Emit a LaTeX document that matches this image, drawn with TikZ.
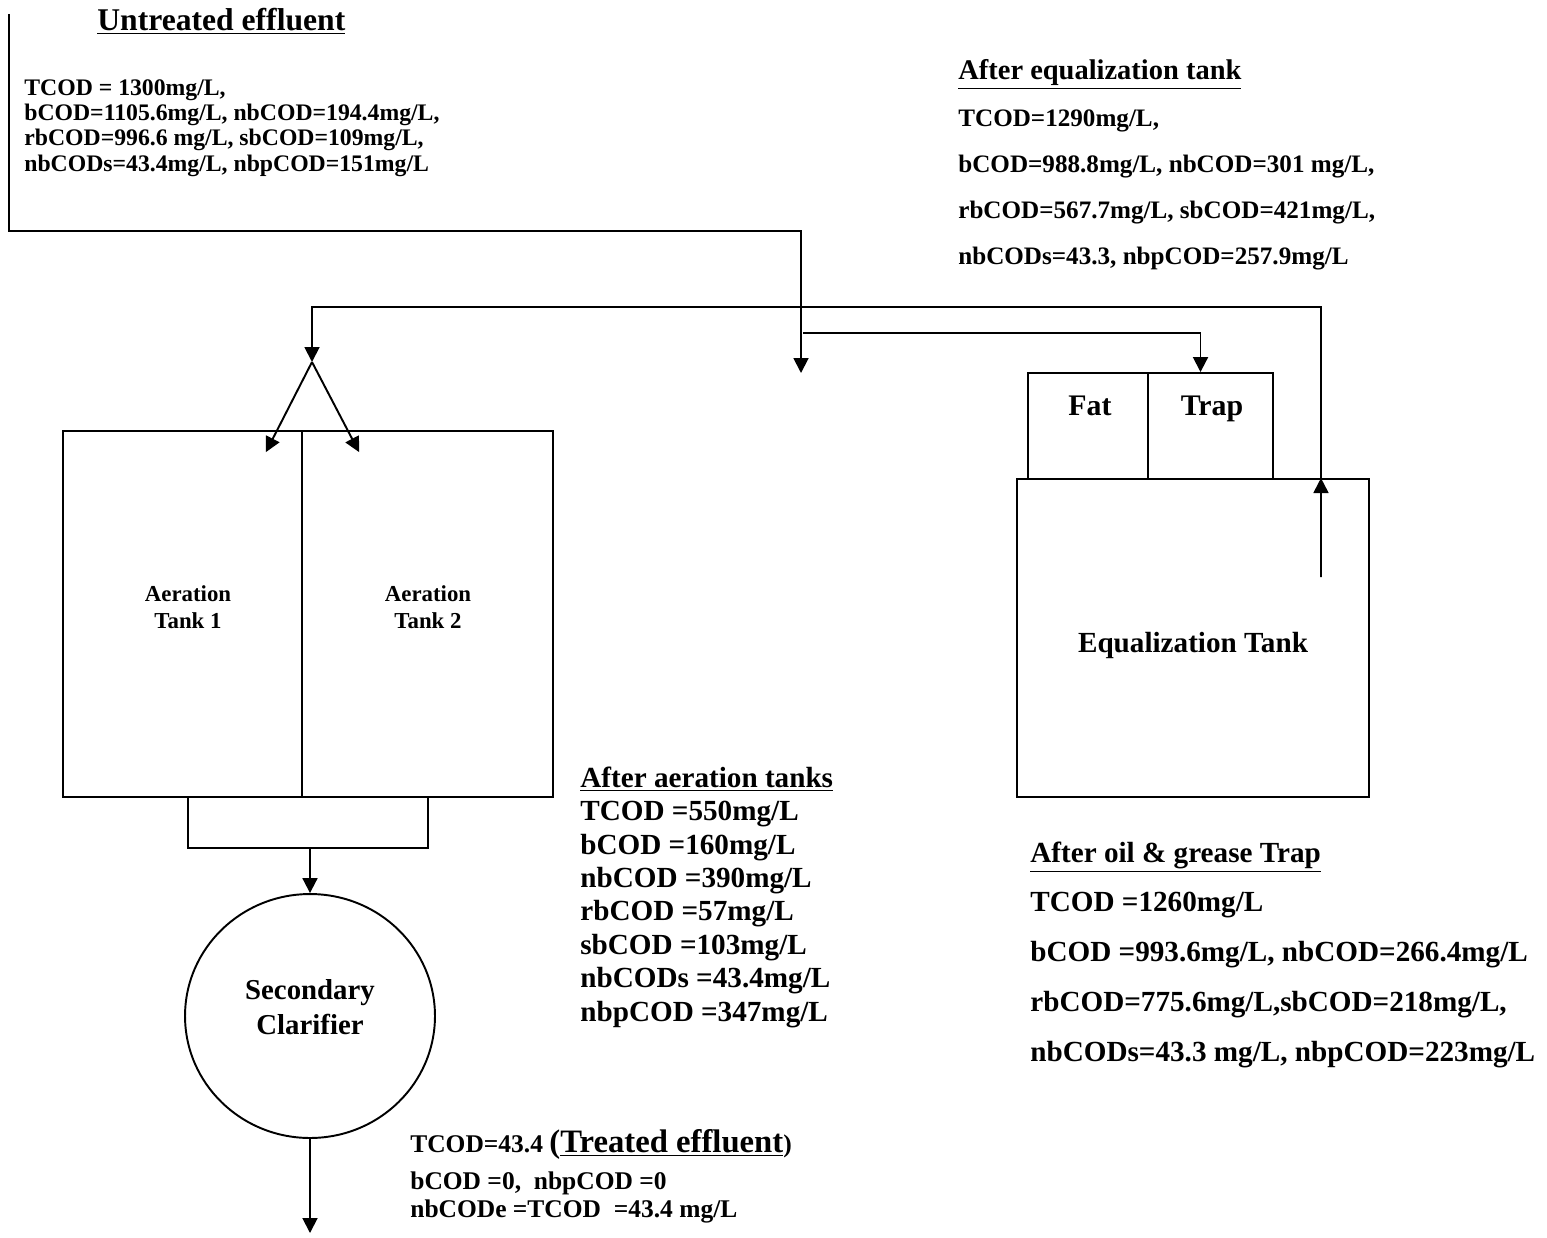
\documentclass[tikz,border=0pt]{standalone}
\usepackage{fontspec}
\setmainfont{Liberation Serif}
\usetikzlibrary{arrows.meta,shapes.geometric}
\tikzset{
  tank/.style={draw, line width=1.1pt, inner sep=0pt},
  pipe/.style={line width=1.1pt},
  flow/.style={line width=1.1pt, -{Triangle[length=8.5pt,width=8.5pt]}},
  lbl/.style={align=left, anchor=base west, inner sep=0pt},
  tanklbl/.style={align=center, inner sep=0pt},
}
\newcommand{\fsz}[2]{\fontsize{#1}{#2}\selectfont}

\begin{document}
\begin{tikzpicture}[x=0.02cm, y=-0.02cm]
  \useasboundingbox (0,0) rectangle (1547,1237);
  % tanks
  \node[tank, minimum width=4.78cm, minimum height=7.32cm] (aer1) at (182.5,614) {};
  \node[tank, minimum width=5.02cm, minimum height=7.32cm] (aer2) at (427.5,614) {};
  \node[tank, minimum width=2.4cm, minimum height=2.12cm] (fat) at (1088,426) {};
  \node[tank, minimum width=2.5cm, minimum height=2.12cm] (trap) at (1210.5,426) {};
  \node[tank, minimum width=7.04cm, minimum height=6.36cm] (eq) at (1193,638) {};
  \node[tank, ellipse, minimum width=5cm, minimum height=4.88cm] (clar) at (310,1016) {};
  % tank labels
  \node[tanklbl, font=\bfseries\fsz{13}{15.3}] (aer1lbl) at (188,607) {Aeration\\Tank 1};
  \node[tanklbl, font=\bfseries\fsz{13}{15.3}] (aer2lbl) at (428,607) {Aeration\\Tank 2};
  \node[anchor=base, inner sep=0pt, font=\bfseries\fsz{17}{20}] (fatlbl) at (1090,415) {Fat};
  \node[anchor=base, inner sep=0pt, font=\bfseries\fsz{17}{20}] (traplbl) at (1212,415) {Trap};
  \node[anchor=base, inner sep=0pt, font=\bfseries\fsz{16.6}{20}] (eqlbl) at (1193,652) {Equalization Tank};
  \node[tanklbl, font=\bfseries\fsz{16.4}{19.8}] (clarlbl) at (310,1007) {Secondary\\Clarifier};

  % flow lines
  \coordinate (src) at (9,14);
  \coordinate (mix) at (801,373);
  \coordinate (tee) at (803,333);
  \coordinate (ret) at (1321,577);
  \coordinate (apex) at (312,362);
  \coordinate (coll) at (310,847);
  \coordinate (out) at (310,1233);
  \draw[flow] (src) -- ++(0,217) -| (mix);
  \draw[flow] (tee) -| ([xshift=-0.2cm]trap.north);
  \draw[flow] (ret) -- ([xshift=2.56cm]eq.north);
  \draw[flow] ([xshift=2.56cm]eq.north) -- ++(0,-171) -| (apex);
  \draw[flow] (apex) -- ([xshift=-0.74cm,yshift=-0.44cm]aer1.north east);
  \draw[flow] (apex) -- ([xshift=1.16cm,yshift=-0.44cm]aer2.north west);
  \draw[pipe] ([xshift=0.11cm]aer1.south) -- ++(0,50) -| ([xshift=0.01cm]aer2.south);
  \draw[flow] (coll) -- (clar.north);
  \draw[flow] (clar.south) -- (out);

  % COD values (base = last line)
  \node[lbl, font=\bfseries\fsz{18}{21}] (untrhd) at (97,31) {\underline{Untreated effluent}};
  \node[lbl, font=\bfseries\fsz{13.5}{14.4}] (untr) at (24,171)
    {TCOD = 1300mg/L,\\
     bCOD=1105.6mg/L, nbCOD=194.4mg/L,\\
     rbCOD=996.6 mg/L, sbCOD=109mg/L,\\
     nbCODs=43.4mg/L, nbpCOD=151mg/L};
  \node[lbl, font=\bfseries\fsz{16.2}{19}] (eqhd) at (958,80) {\underline{After equalization tank}};
  \node[lbl, font=\bfseries\fsz{14.3}{26.1}] (eqval) at (958,264)
    {TCOD=1290mg/L,\\
     bCOD=988.8mg/L, nbCOD=301 mg/L,\\
     rbCOD=567.7mg/L, sbCOD=421mg/L,\\
     nbCODs=43.3, nbpCOD=257.9mg/L};
  \node[lbl, font=\bfseries\fsz{16.6}{19}] (aerval) at (580,1021)
    {\underline{After aeration tanks}\\
     TCOD =550mg/L\\
     bCOD =160mg/L\\
     nbCOD =390mg/L\\
     rbCOD =57mg/L\\
     sbCOD =103mg/L\\
     nbCODs =43.4mg/L\\
     nbpCOD =347mg/L};
  \node[lbl, font=\bfseries\fsz{16.6}{28.3}] (oilval) at (1030,1061)
    {\underline{After oil \& grease Trap}\\
     TCOD =1260mg/L\\
     bCOD =993.6mg/L, nbCOD=266.4mg/L\\
     rbCOD=775.6mg/L,sbCOD=218mg/L,\\
     nbCODs=43.3 mg/L, nbpCOD=223mg/L};
  \node[lbl, font=\bfseries\fsz{14.5}{17}] (trhd) at (410,1152)
    {TCOD=43.4 {\fsz{18.6}{21}(\underline{Treated effluent}})};
  \node[lbl, font=\bfseries\fsz{14.5}{15.9}] (trval) at (410,1217)
    {bCOD =0,\ \ nbpCOD =0\\
     nbCODe =TCOD\ \ =43.4 mg/L};
\end{tikzpicture}
\end{document}
